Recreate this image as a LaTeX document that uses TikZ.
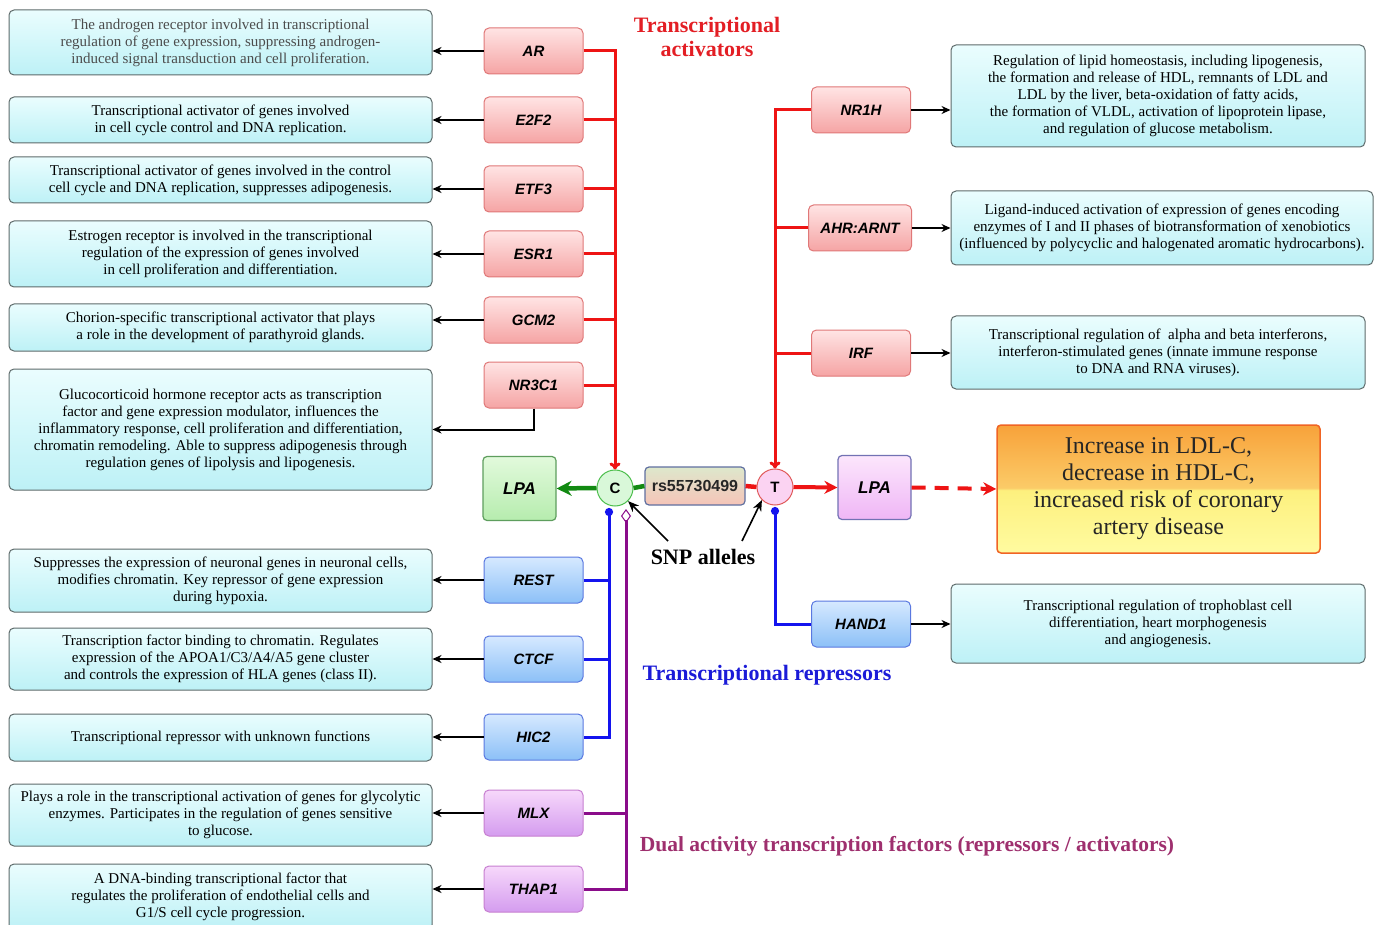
\documentclass[tikz,border=0pt]{standalone}
\usepackage{fontspec}
\setmainfont{Liberation Serif}
\newfontfamily\arialf{Liberation Sans}
\usetikzlibrary{arrows.meta,shadings,calc}
\definecolor{descT}{HTML}{EAFDFE}
\definecolor{descBo}{HTML}{BDF1F6}
\definecolor{descB}{HTML}{5E6B6B}
\definecolor{rgT}{HTML}{FFE4E4}
\definecolor{rgBo}{HTML}{F5A4A4}
\definecolor{rgB}{HTML}{E07878}
\definecolor{bgT}{HTML}{D6E9FF}
\definecolor{bgBo}{HTML}{8CC0F7}
\definecolor{bgB}{HTML}{5A78E0}
\definecolor{pgT}{HTML}{F7D8FB}
\definecolor{pgBo}{HTML}{D49CEF}
\definecolor{pgB}{HTML}{C77FD0}
\definecolor{lgT}{HTML}{E2FADC}
\definecolor{lgBo}{HTML}{B6ECAE}
\definecolor{lgB}{HTML}{5E9E5E}
\definecolor{lpT}{HTML}{FCE6FC}
\definecolor{lpBo}{HTML}{EFB6F6}
\definecolor{lpB}{HTML}{7272B4}
\definecolor{cF}{HTML}{D9F8D9}
\definecolor{cB}{HTML}{4DBF4D}
\definecolor{tF}{HTML}{FBD3F2}
\definecolor{tB}{HTML}{E05A5A}
\definecolor{rsT}{HTML}{DDE8CC}
\definecolor{rsBo}{HTML}{F6C4B8}
\definecolor{rsB}{HTML}{6070A0}
\definecolor{redL}{HTML}{EE1414}
\definecolor{blueL}{HTML}{1414EE}
\definecolor{purL}{HTML}{8A0C8A}
\definecolor{greenL}{HTML}{128A12}
\definecolor{tRed}{HTML}{E31E24}
\definecolor{tBlue}{HTML}{1B1BD8}
\definecolor{tPur}{HTML}{9E2F6E}
\definecolor{ocY1}{HTML}{FFFBA0}
\definecolor{ocY2}{HTML}{FDF07E}
\definecolor{ocO1}{HTML}{FBCB68}
\definecolor{ocO2}{HTML}{F8A23A}
\definecolor{ocB}{HTML}{F06424}
\pgfdeclareverticalshading{outcsh}{100bp}{color(0bp)=(ocY1); color(25bp)=(ocY1); color(49.5bp)=(ocY2); color(50.5bp)=(ocO1); color(75bp)=(ocO2); color(100bp)=(ocO2)}
\begin{document}
\begin{tikzpicture}[x=1pt,y=-1pt,
  desc/.style={draw=descB, line width=1pt, rounded corners=5pt, top color=descT, bottom color=descBo,
    align=center, inner sep=2pt, minimum width=423pt, font=\fontsize{15}{17}\selectfont},
  gene/.style={rounded corners=5pt, line width=1pt, minimum width=99pt, minimum height=46pt,
    font=\arialf\bfseries\itshape\fontsize{15}{17}\selectfont, inner sep=1pt},
  rgene/.style={gene, draw=rgB, top color=rgT, bottom color=rgBo},
  bgene/.style={gene, draw=bgB, top color=bgT, bottom color=bgBo},
  pgene/.style={gene, draw=pgB, top color=pgT, bottom color=pgBo},
  allele/.style={circle, minimum size=36pt, line width=1pt, inner sep=0pt,
    font=\arialf\bfseries\fontsize{15}{15}\selectfont},
  lpabox/.style={rounded corners=4pt, line width=1.2pt, minimum width=73pt, minimum height=64pt,
    font=\arialf\bfseries\itshape\fontsize{17}{17}\selectfont},
  arr/.style={draw=black, line width=2pt, -{Stealth[length=9pt,width=8pt]}},
  sarr/.style={draw=black, line width=1.6pt, -{Stealth[length=11pt,width=9pt]}},
  rline/.style={draw=redL, line width=3pt},
  bline/.style={draw=blueL, line width=3pt},
  pline/.style={draw=purL, line width=3pt},
  gline/.style={draw=greenL, line width=4.5pt},
  title/.style={font=\bfseries\fontsize{21.5}{24}\selectfont, align=center}
]
\useasboundingbox (0,0) rectangle (1384,925);
\fill[white] (0,0) rectangle (1384,925);

% left description boxes
\node[desc, minimum height=65pt, text=black!70] (d1) at (220.5,42.5) {The androgen receptor involved in transcriptional\\ regulation of gene expression, suppressing androgen-\\ induced signal transduction and cell proliferation.};
\node[desc, minimum height=46pt] (d2) at (220.5,120) {Transcriptional activator of genes involved\\ in cell cycle control and DNA replication.};
\node[desc, minimum height=46pt] (d3) at (220.5,180) {Transcriptional activator of genes involved in the control\\ cell cycle and DNA replication, suppresses adipogenesis.};
\node[desc, minimum height=66pt] (d4) at (220.5,254) {Estrogen receptor is involved in the transcriptional\\ regulation of the expression of genes involved\\ in cell proliferation and differentiation.};
\node[desc, minimum height=47pt] (d5) at (220.5,327.5) {Chorion-specific transcriptional activator that plays\\ a role in the development of parathyroid glands.};
\node[desc, minimum height=121pt] (d6) at (220.5,429.5) {Glucocorticoid hormone receptor acts as transcription\\ factor and gene expression modulator, influences the\\ inflammatory response, cell proliferation and differentiation,\\ chromatin remodeling. Able to suppress adipogenesis through\\ regulation genes of lipolysis and lipogenesis.};
\node[desc, minimum height=63pt] (d7) at (220.5,580.5) {Suppresses the expression of neuronal genes in neuronal cells,\\ modifies chromatin. Key repressor of gene expression\\ during hypoxia.};
\node[desc, minimum height=62pt] (d8) at (220.5,659) {Transcription factor binding to chromatin. Regulates\\ expression of the APOA1/C3/A4/A5 gene cluster\\ and controls the expression of HLA genes (class II).};
\node[desc, minimum height=47pt] (d9) at (220.5,737.5) {Transcriptional repressor with unknown functions};
\node[desc, minimum height=62pt] (d10) at (220.5,815) {Plays a role in the transcriptional activation of genes for glycolytic\\ enzymes. Participates in the regulation of genes sensitive\\ to glucose.};
\node[desc, minimum height=66pt] (d11) at (220.5,897) {A DNA-binding transcriptional factor that\\ regulates the proliferation of endothelial cells and\\ G1/S cell cycle progression.};

% right description boxes
\node[desc, minimum width=414pt, minimum height=102pt] (r1) at (1158,96) {Regulation of lipid homeostasis, including lipogenesis,\\ the formation and release of HDL, remnants of LDL and\\ LDL by the liver, beta-oxidation of fatty acids,\\ the formation of VLDL, activation of lipoprotein lipase,\\ and regulation of glucose metabolism.};
\node[desc, minimum width=422pt, minimum height=74pt] (r2) at (1162,228) {Ligand-induced activation of expression of genes encoding\\ enzymes of I and II phases of biotransformation of xenobiotics\\ (influenced by polycyclic and halogenated aromatic hydrocarbons).};
\node[desc, minimum width=414pt, minimum height=73pt] (r3) at (1158,352.5) {Transcriptional regulation of\ \ alpha and beta interferons,\\ interferon-stimulated genes (innate immune response\\ to DNA and RNA viruses).};
\node[desc, minimum width=414pt, minimum height=79pt] (r4) at (1158,623.5) {Transcriptional regulation of trophoblast cell\\ differentiation, heart morphogenesis\\ and angiogenesis.};

% left gene boxes
\node[rgene] (ar) at (533.5,51) {AR};
\node[rgene] (e2f2) at (533.5,120) {E2F2};
\node[rgene] (etf3) at (533.5,189) {ETF3};
\node[rgene] (esr1) at (533.5,254) {ESR1};
\node[rgene] (gcm2) at (533.5,320) {GCM2};
\node[rgene] (nr3c1) at (533.5,385) {NR3C1};
\node[bgene] (rest) at (533.5,580) {REST};
\node[bgene] (ctcf) at (533.5,659) {CTCF};
\node[bgene] (hic2) at (533.5,737) {HIC2};
\node[pgene] (mlx) at (533.5,813) {MLX};
\node[pgene] (thap1) at (533.5,889) {THAP1};

% right gene boxes
\node[rgene] (nr1h) at (861,110) {NR1H};
\node[rgene, minimum width=103pt] (ahr) at (860,228) {AHR:ARNT};
\node[rgene] (irf) at (861,353) {IRF};
\node[bgene] (hand1) at (861,624) {HAND1};

% central elements
\node[allele, draw=cB, fill=cF] (C) at (615,488) {C};
\node[allele, draw=tB, fill=tF] (T) at (775,487) {T};
\node[draw=rsB, line width=1.2pt, rounded corners=4pt, top color=rsT, bottom color=rsBo,
  minimum width=100pt, minimum height=38pt, inner sep=1pt,
  font=\arialf\bfseries\fontsize{16}{16}\selectfont, text=black!85] (rs) at (695,486) {rs55730499};
\node[lpabox, draw=lgB, top color=lgT, bottom color=lgBo] (lpa1) at (519.5,488.5) {LPA};
\node[lpabox, draw=lpB, top color=lpT, bottom color=lpBo] (lpa2) at (874.5,487.5) {LPA};
\node[draw=ocB, line width=1.5pt, rounded corners=4pt, shading=outcsh,
  minimum width=323pt, minimum height=128pt, align=center,
  font=\fontsize{24}{27}\selectfont, text=black!85] (out) at (1158.5,489) {Increase in LDL-C,\\ decrease in HDL-C,\\ increased risk of coronary\\ artery disease};

% titles
\node[title, text=tRed, font=\bfseries\fontsize{22}{24}\selectfont] (tact) at (707,37) {Transcriptional\\ activators};
\node[title, text=tBlue, font=\bfseries\fontsize{22}{24}\selectfont] (trep) at (767,675) {Transcriptional repressors};
\node[title, text=tPur] (tdual) at (907,846) {Dual activity transcription factors (repressors / activators)};
\node[font=\bfseries\fontsize{22}{22}\selectfont] (snp) at (703,557) {SNP alleles};

% red trunks
\draw[rline, -{To[length=7pt,width=11pt]}] (ar.east) -| (C.north);
\foreach \g in {e2f2,etf3,esr1,gcm2,nr3c1}{\draw[rline] (\g.east) -- (\g.east -| C.north);}
\draw[rline, -{To[length=7pt,width=11pt]}] (nr1h.west) -| (T.north);
\foreach \g in {ahr,irf}{\draw[rline] (\g.west) -- (\g.west -| T.north);}

% blue repressors
\coordinate (bdot) at (609,508);
\draw[bline, {Circle[length=8pt]}-] (bdot) |- (hic2.east);
\foreach \g in {rest,ctcf}{\draw[bline] (\g.east) -- (\g.east -| bdot);}
\coordinate (tdot) at (775,507);
\draw[bline, {Circle[length=8pt]}-] (tdot) |- (hand1.west);

% purple dual
\coordinate (pdia) at (626,509);
\draw[pline, {Diamond[open,length=14pt,width=10pt,line width=1pt]}-] (pdia) |- (thap1.east);
\draw[pline] (mlx.east) -- (mlx.east -| pdia);

% central links
\draw[gline, -{Stealth[length=15pt,width=15pt]}] (C.west) -- (lpa1.east);
\draw[gline] (C.east) -- (rs.west);
\draw[draw=redL, line width=4.5pt] (rs.east) -- (T.west);
\draw[draw=redL, line width=4pt, -{Stealth[length=13pt,width=13pt]}] (T.east) -- (lpa2.west);
\draw[draw=redL, line width=4pt, dash pattern=on 14pt off 9pt, -{Stealth[length=13pt,width=13pt]}] (lpa2.east) -- (out.west);

% SNP arrows
\coordinate (sa) at (668,541);
\coordinate (sb) at (742,541);
\draw[sarr] (sa) -- (C.south east);
\draw[sarr] (sb) -- (T.south west);

% black arrows to descriptions
\foreach \g/\d in {ar/d1,e2f2/d2,etf3/d3,esr1/d4,gcm2/d5,rest/d7,ctcf/d8,hic2/d9,mlx/d10,thap1/d11}{
  \draw[arr] (\g.west) -- (\g.west -| \d.east);}
\draw[arr] (nr3c1.south) |- (d6.east);
\foreach \g/\d in {nr1h/r1,ahr/r2,irf/r3,hand1/r4}{
  \draw[arr] (\g.east) -- (\g.east -| \d.west);}
\end{tikzpicture}
\end{document}
